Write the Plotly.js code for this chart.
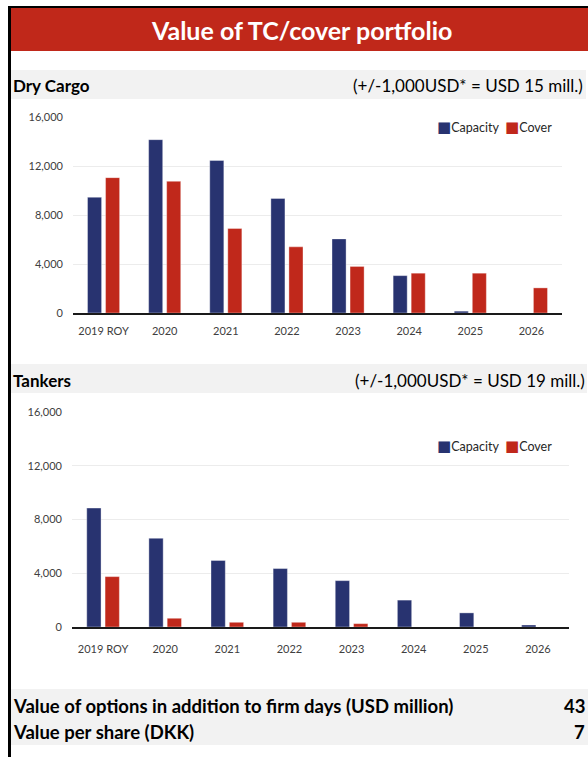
<!DOCTYPE html>
<html>
<head>
<meta charset="utf-8">
<script src="https://cdn.plot.ly/plotly-3.0.1.min.js"></script>
<style>
  html, body { margin: 0; padding: 0; background: #ffffff; }
  #chart { width: 588px; height: 757px; }
</style>
</head>
<body>
<div id="chart"></div>
<script>
// ---- Data ----
const categories = ['2019 ROY', '2020', '2021', '2022', '2023', '2024', '2025', '2026'];
const dryCapacity = [9450, 14150, 12450, 9350, 6050, 3050, 150, 0];
const dryCover = [11050, 10750, 6900, 5400, 3800, 3250, 3250, 2050];
const tankCapacity = [8850, 6600, 4950, 4350, 3450, 2000, 1050, 150];
const tankCover = [3750, 650, 350, 350, 250, 0, 0, 0];
const yTicks = [0, 4000, 8000, 12000, 16000];

const optionsValueUSDm = '43';
const valuePerShareDKK = '7';

// ---- Style ----
const W = 588, H = 757;
const NAVY = '#283370';
const RED = '#c0281b';
const HEADER_RED = '#c0281a';
const BAND = '#f2f2f2';
const FONT = 'Lato, Carlito, Calibri, "Noto Sans", sans-serif';
const px = x => x / W;
const py = y => 1 - y / H;

const barLine = { color: 'rgba(255,255,255,0.6)', width: 0.6 };

const traces = [
  { type: 'bar', name: 'Capacity', x: categories, y: dryCapacity, xaxis: 'x', yaxis: 'y',
    marker: { color: NAVY, line: barLine }, showlegend: false, hoverinfo: 'x+y+name' },
  { type: 'bar', name: 'Cover', x: categories, y: dryCover, xaxis: 'x', yaxis: 'y',
    marker: { color: RED, line: barLine }, showlegend: false, hoverinfo: 'x+y+name' },
  { type: 'bar', name: 'Capacity', x: categories, y: tankCapacity, xaxis: 'x2', yaxis: 'y2',
    marker: { color: NAVY, line: barLine }, showlegend: false, hoverinfo: 'x+y+name' },
  { type: 'bar', name: 'Cover', x: categories, y: tankCover, xaxis: 'x2', yaxis: 'y2',
    marker: { color: RED, line: barLine }, showlegend: false, hoverinfo: 'x+y+name' }
];

const tickFont = { family: FONT, size: 11, color: '#404040' };

function xAxis(domain, anchor, standoff) {
  return {
    domain: domain, anchor: anchor, type: 'category',
    showgrid: false, showline: true, linecolor: '#1a1a1a', linewidth: 1.5,
    ticks: '', tickfont: tickFont, ticklabelstandoff: standoff, fixedrange: true
  };
}
function yAxis(domain, anchor) {
  return {
    domain: domain, anchor: anchor, range: [0, 16000],
    tickvals: yTicks, tickformat: ',', showgrid: true, gridcolor: '#ececec', gridwidth: 1,
    zeroline: false, showline: false, ticks: '', tickfont: tickFont,
    ticklabelstandoff: 9, fixedrange: true
  };
}

const shapes = [
  // red title band
  { type: 'rect', xref: 'paper', yref: 'paper', x0: px(11), x1: px(588), y0: py(51), y1: py(8),
    fillcolor: HEADER_RED, line: { width: 0 }, layer: 'below' },
  // section bands
  { type: 'rect', xref: 'paper', yref: 'paper', x0: px(11), x1: px(586), y0: py(99), y1: py(70),
    fillcolor: BAND, line: { width: 0 }, layer: 'below' },
  { type: 'rect', xref: 'paper', yref: 'paper', x0: px(11), x1: px(587), y0: py(393), y1: py(364),
    fillcolor: BAND, line: { width: 0 }, layer: 'below' },
  { type: 'rect', xref: 'paper', yref: 'paper', x0: px(11), x1: px(588), y0: py(745), y1: py(689),
    fillcolor: BAND, line: { width: 0 }, layer: 'below' },
  // frame
  { type: 'line', xref: 'paper', yref: 'paper', x0: px(9.5), x1: px(9.5), y0: py(757), y1: py(6),
    line: { color: '#000', width: 3 } },
  { type: 'line', xref: 'paper', yref: 'paper', x0: px(8), x1: px(588), y0: py(7), y1: py(7),
    line: { color: '#000', width: 2 } }
];

function ann(text, x, y, xanchor, size, bold, color) {
  return {
    xref: 'paper', yref: 'paper', x: px(x), y: py(y), xanchor: xanchor, yanchor: 'middle',
    text: bold ? '<b>' + text + '</b>' : text, showarrow: false,
    font: { family: FONT, size: size, color: color || '#000' }, borderpad: 0
  };
}
const sq = c => '<span style="color:' + c + ';font-size:15px;font-family:DejaVu Sans">■</span>';
const legendText = sq(NAVY) + 'Capacity&nbsp;&nbsp;' + sq(RED) + 'Cover';

const annotations = [
  ann('Value of TC/cover portfolio', 301, 30, 'center', 25, true, '#ffffff'),
  ann('Dry Cargo', 12, 86, 'left', 17, true),
  ann('(+/-1,000USD* = USD 15 mill.)', 584, 86, 'right', 17, false),
  ann('Tankers', 12, 380, 'left', 17, true),
  ann('(+/-1,000USD* = USD 19 mill.)', 586, 380, 'right', 17, false),
  ann(legendText, 436, 127, 'left', 12.5, false, '#262626'),
  ann(legendText, 436, 446, 'left', 12.5, false, '#262626'),
  ann('Value of options in addition to firm days (USD million)', 12, 706, 'left', 18.5, true),
  ann(optionsValueUSDm, 586, 706, 'right', 18.5, true),
  ann('Value per share (DKK)', 12, 732, 'left', 18.5, true),
  ann(valuePerShareDKK, 586, 732, 'right', 18.5, true)
];

const layout = {
  width: W, height: H,
  margin: { l: 0, r: 0, t: 0, b: 0, pad: 0 },
  paper_bgcolor: '#ffffff', plot_bgcolor: 'rgba(0,0,0,0)',
  barmode: 'group', bargap: 0.41, bargroupgap: 0.22,
  showlegend: false,
  font: { family: FONT, color: '#404040' },
  xaxis: xAxis([px(73), px(562)], 'y', 7),
  yaxis: yAxis([py(313), py(117)], 'x'),
  xaxis2: xAxis([px(72), px(569)], 'y2', 11),
  yaxis2: yAxis([py(627), py(412)], 'x2'),
  shapes: shapes,
  annotations: annotations
};

Plotly.newPlot('chart', traces, layout, { displayModeBar: false, staticPlot: true });
</script>
</body>
</html>
